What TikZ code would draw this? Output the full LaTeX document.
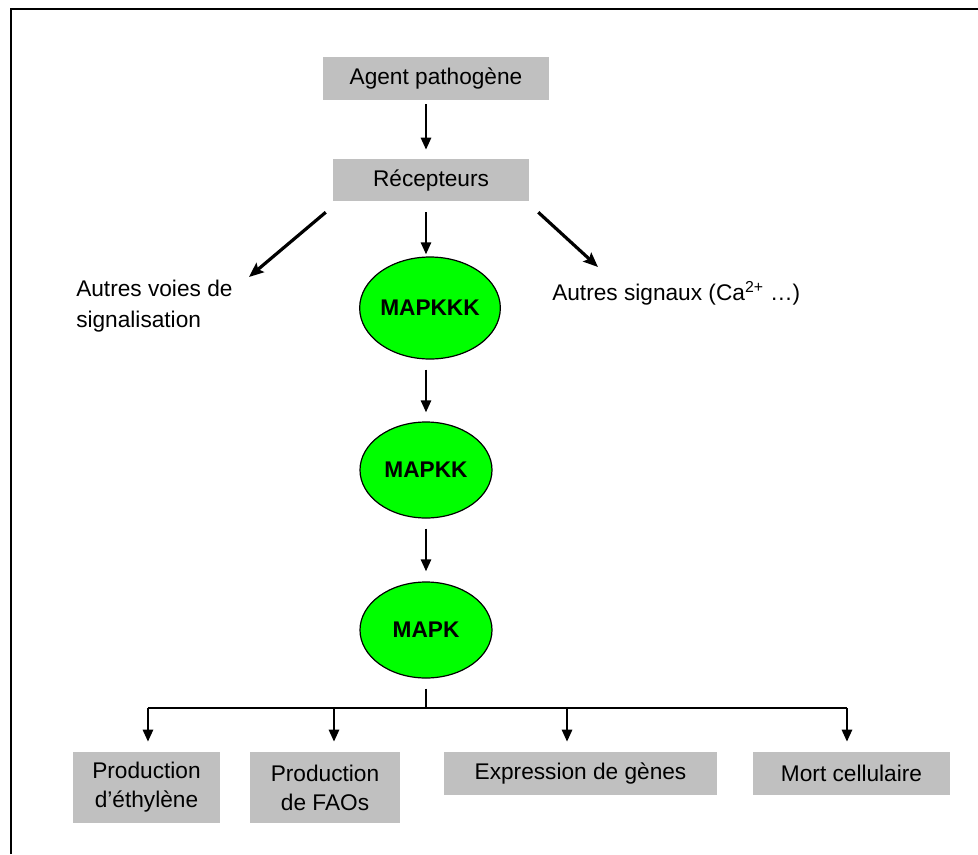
\documentclass[tikz,border=0pt]{standalone}
\usepackage{fontspec}
\setmainfont{Liberation Sans}
\usetikzlibrary{positioning,shapes.geometric,arrows.meta}
\definecolor{boxgrey}{HTML}{C0C0C0}
\definecolor{kinasegreen}{HTML}{00FF00}
\tikzset{
  greybox/.style={fill=boxgrey, inner sep=0pt, align=center,
    font=\fontsize{17}{21.75}\selectfont},
  kinase/.style={ellipse, draw, line width=0.9pt, fill=kinasegreen,
    inner sep=0pt, font=\fontsize{17}{20}\selectfont\bfseries},
  plaintext/.style={inner sep=0pt, align=left,
    font=\fontsize{17}{23}\selectfont},
  flow/.style={line width=1.9pt, -{Triangle[length=9pt,width=7.5pt]}},
  sideflow/.style={line width=2.4pt, -{Stealth[length=11pt,width=9pt,inset=2pt]}},
  busline/.style={line width=1pt}
}
\begin{document}
\begin{tikzpicture}[x=0.75pt,y=-0.75pt]
\useasboundingbox (0,0) rectangle (978,854);
\draw[line width=1.5pt] (11,854) -- (11,9) -- (978,9); % frame
\node[greybox, minimum width=169.5pt, minimum height=32.25pt] (agent) at (436,78.5) {Agent pathogène};
\node[greybox, minimum width=147pt, minimum height=31.5pt] (recep) at (431,180) {Récepteurs};
\node[kinase, minimum width=93pt, minimum height=76.5pt] (mapkkk) at (430,308) {MAPKKK};
\node[kinase, minimum width=99pt, minimum height=72pt] (mapkk) at (426,470) {MAPKK};
\node[kinase, minimum width=99pt, minimum height=72pt] (mapk) at (426,630) {MAPK};
%% Side labels
\node[plaintext, right = 0pt of {(76,306)}] (voies) {Autres voies de\\signalisation};
\node[plaintext, right = 0pt of {(552,293)}] (signaux) {Autres signaux (Ca\textsuperscript{2+} …)};
\coordinate (voiesTip) at (249,277);
\coordinate (signauxTip) at (598,267);
%% Responses
\node[greybox, minimum width=110.25pt, minimum height=53.25pt] (prodA) at (146.5,787.5) {Production\\d’éthylène};
\node[greybox, minimum width=112.5pt, minimum height=53.25pt] (prodB) at (325,787.5) {Production\\de FAOs};
\node[greybox, minimum width=204.75pt, minimum height=32.25pt] (expr) at (580.5,773.5) {Expression de gènes};
\node[greybox, minimum width=147.75pt, minimum height=32.25pt] (mort) at (851.5,773.5) {Mort cellulaire};
\coordinate (bus) at (427,708);
%% Cascade
\draw[flow, shorten <=3pt, shorten >=6.75pt] (agent.south -| mapk.north) -- (recep.north -| mapk.north);
\draw[flow, shorten <=8.25pt, shorten >=1.5pt] (recep.south -| mapk.north) -- (mapkkk.north -| mapk.north);
\draw[flow, shorten <=7.5pt, shorten >=6.75pt] (mapkkk.south -| mapk.north) -- (mapkk.north);
\draw[flow, shorten <=7.5pt, shorten >=7.5pt] (mapkk.south) -- (mapk.north);
\draw[sideflow] ([shift={(-7,11)}]recep.south west) -- (voiesTip); % to voies
\draw[sideflow] ([shift={(9,11)}]recep.south east) -- (signauxTip); % to signaux
%% Branching
\draw[busline, shorten <=7.5pt] (mapk.south) -- (mapk.south |- bus);
\draw[busline] ([xshift=1.1pt]prodA.north |- bus) -- ([xshift=-3.4pt]mort.north |- bus);
\foreach \target/\dx in {prodA/1.1pt, prodB/6.75pt, expr/-10.1pt, mort/-3.4pt}
  \draw[flow, shorten >=7.5pt] ([xshift=\dx]\target.north |- bus) -- ([xshift=\dx]\target.north);
\end{tikzpicture}
\end{document}
